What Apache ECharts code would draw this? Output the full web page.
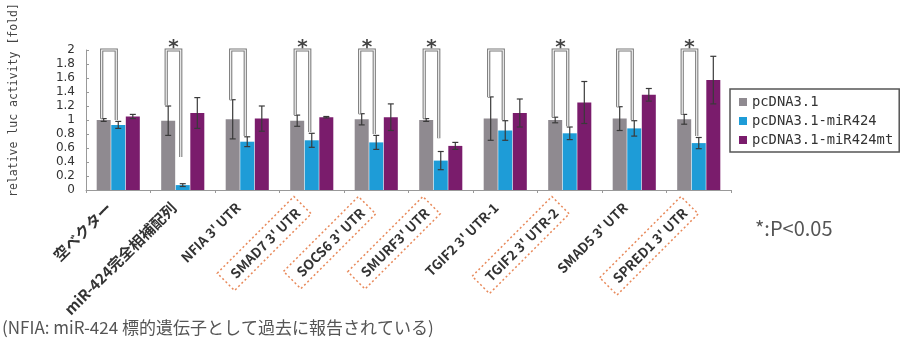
<!DOCTYPE html>
<html><head><meta charset="utf-8">
<script src="https://cdn.jsdelivr.net/npm/echarts@6/dist/echarts.min.js"></script>
<style>html,body{margin:0;padding:0;background:#fff}#c{width:900px;height:344px}</style>
</head><body><div id="c"></div>
<script>
const categories = ["空ベクター", "miR-424完全相補配列", "NFIA 3' UTR", "SMAD7 3' UTR", "SOCS6 3' UTR", "SMURF3' UTR", "TGIF2 3' UTR-1", "TGIF2 3' UTR-2", "SMAD5 3' UTR", "SPRED1 3' UTR"];
const boxed = [0, 0, 0, 1, 1, 1, 0, 1, 0, 1];
const seriesNames = ["pcDNA3.1", "pcDNA3.1-miR424", "pcDNA3.1-miR424mt"];
const grayVals   = [1.00, 0.99, 1.01, 0.99, 1.01, 1.00, 1.02, 1.00, 1.02, 1.01];
const grayErr    = [0.02, 0.21, 0.28, 0.08, 0.08, 0.02, 0.31, 0.04, 0.17, 0.07];
const blueVals   = [0.93, 0.07, 0.69, 0.71, 0.68, 0.42, 0.85, 0.81, 0.88, 0.67];
const blueErr    = [0.05, 0.02, 0.07, 0.10, 0.10, 0.13, 0.14, 0.09, 0.11, 0.08];
const purpleVals = [1.05, 1.10, 1.02, 1.04, 1.04, 0.63, 1.10, 1.25, 1.36, 1.57];
const purpleErr  = [0.03, 0.22, 0.18, 0.01, 0.19, 0.05, 0.20, 0.30, 0.09, 0.34];
const significant = [0, 1, 0, 1, 1, 1, 0, 1, 0, 1];
const bracketLeftEnd  = [1.02, 1.21, 1.29, 1.07, 1.09, 1.02, 1.33, 1.04, 1.19, 1.08];
const bracketRightEnd = [1.00, 0.47, 0.77, 0.83, 0.80, 0.74, 1.00, 0.91, 1.00, 0.77];
const bracketTop = 2.0;
const yTicks = [0, 0.2, 0.4, 0.6, 0.8, 1, 1.2, 1.4, 1.6, 1.8, 2];

const colors = ['#8f8a90', '#1e9cd7', '#7a1c6c'];
const BW = 14; // bar width px
const hasCJK = s => /[\u3000-\u9fff]/.test(s);

const errData = [];
[[grayVals, grayErr], [blueVals, blueErr], [purpleVals, purpleErr]].forEach((p, s) => {
  p[0].forEach((v, i) => errData.push([i, s, v, p[1][i]]));
});
const bracketData = categories.map((c, i) => [i, bracketLeftEnd[i], bracketRightEnd[i], significant[i]]);

const lblBase = {fontFamily: 'Noto Sans CJK JP', fontWeight: 'bold', fontSize: 13.5, color: '#333'};
const chart = echarts.init(document.getElementById('c'), null, {renderer: 'canvas'});
chart.setOption({
  animation: false,
  backgroundColor: '#fff',
  grid: {left: 82, right: 169, top: 50, bottom: 154, containLabel: false},
  legend: {
    orient: 'vertical', left: 730, top: 89,
    data: seriesNames,
    itemWidth: 8, itemHeight: 8, itemGap: 5,
    padding: [6, 6, 5, 9],
    borderColor: '#555', borderWidth: 1.5,
    textStyle: {fontFamily: 'DejaVu Sans Mono', fontSize: 13.8, color: '#333'},
    icon: 'rect'
  },
  xAxis: {
    type: 'category', data: categories,
    axisLine: {lineStyle: {color: '#999', width: 1}},
    axisTick: {show: true, length: 3, lineStyle: {color: '#999'}},
    axisLabel: {
      rotate: 45, interval: 0, margin: 6,
      ...lblBase,
      formatter: (v, i) => (boxed[i] ? '{b|' + v + '}' : (hasCJK(v) ? '{j|' + v + '}' : '{n|' + v + '}')) + '{sp|}',
      rich: {
        n: {...lblBase},
        j: {...lblBase, fontSize: 15},
        sp: {width: 13},
        b: {...lblBase, borderColor: '#e8895a', borderWidth: 1.5, borderType: [2, 2.5], padding: [6, 7, 5, 9]}
      }
    }
  },
  yAxis: {
    type: 'value', min: 0, max: 2, interval: 0.2,
    name: 'relative luc activity [fold]', nameLocation: 'middle', nameGap: 66, nameRotate: 90,
    nameTextStyle: {fontFamily: 'DejaVu Sans Mono', fontSize: 11.5, color: '#444', padding: [0, 0, 0, 40]},
    axisLine: {show: true, lineStyle: {color: '#999'}},
    axisTick: {show: true, length: 3, inside: true, lineStyle: {color: '#999'}},
    splitLine: {show: false},
    axisLabel: {
      fontFamily: 'DejaVu Sans', fontSize: 12, color: '#333', margin: 11,
      formatter: v => {
        const t = yTicks.find(x => Math.abs(x - v) < 1e-6);
        return t === undefined ? '' : String(t);
      }
    }
  },
  series: [
    {name: seriesNames[0], type: 'bar', data: grayVals, barWidth: BW, barGap: '4%', itemStyle: {color: colors[0]}},
    {name: seriesNames[1], type: 'bar', data: blueVals, barWidth: BW, barGap: '4%', itemStyle: {color: colors[1]}},
    {name: seriesNames[2], type: 'bar', data: purpleVals, barWidth: BW, barGap: '4%', itemStyle: {color: colors[2]}},
    {
      type: 'custom', data: errData, clip: false, z: 5,
      encode: {x: 0, y: 2},
      renderItem: (params, api) => {
        const i = api.value(0), s = api.value(1), v = api.value(2), e = api.value(3);
        const off = (s - 1) * (BW + 0.56);
        const top = api.coord([i, v + e]);
        const bot = api.coord([i, v - e]);
        const x = top[0] + off;
        const st = {stroke: '#3a3a3a', lineWidth: 1.2};
        return {type: 'group', children: [
          {type: 'line', shape: {x1: x, y1: top[1], x2: x, y2: bot[1]}, style: st},
          {type: 'line', shape: {x1: x - 3, y1: top[1], x2: x + 3, y2: top[1]}, style: st},
          {type: 'line', shape: {x1: x - 3, y1: bot[1], x2: x + 3, y2: bot[1]}, style: st}
        ]};
      }
    },
    {
      type: 'custom', data: bracketData, clip: false, z: 6,
      encode: {x: 0, y: 1},
      renderItem: (params, api) => {
        const i = api.value(0), l = api.value(1), r = api.value(2), sig = api.value(3);
        const c = api.coord([i, bracketTop]);
        const xl = c[0] - (BW + 0.56) - 2, xr = c[0] - 2;
        const yl = api.coord([i, l])[1], yr = api.coord([i, r])[1], yt = c[1];
        const pts = [[xl, yl], [xl, yt], [xr, yt], [xr, yr]];
        const ch = [
          {type: 'polyline', shape: {points: pts}, style: {stroke: '#777', lineWidth: 3.2, fill: null}},
          {type: 'polyline', shape: {points: pts}, style: {stroke: '#fff', lineWidth: 1.1, fill: null}}
        ];
        if (sig) ch.push({type: 'text', style: {text: '*', x: (xl + xr) / 2, y: yt - 2, align: 'center', verticalAlign: 'middle',
          font: 'bold 20px "DejaVu Sans"', fill: '#444'}});
        return {type: 'group', children: ch};
      }
    }
  ],
  graphic: [
    {type: 'text', left: 755, top: 218, style: {text: '*:P<0.05', font: '20px "Noto Sans CJK JP"', fill: '#555'}},
    {type: 'text', left: 2, top: 319, style: {text: '(NFIA: miR-424 標的遺伝子として過去に報告されている)', font: '17px "Noto Sans CJK JP"', fill: '#555'}}
  ]
});
</script></body></html>
